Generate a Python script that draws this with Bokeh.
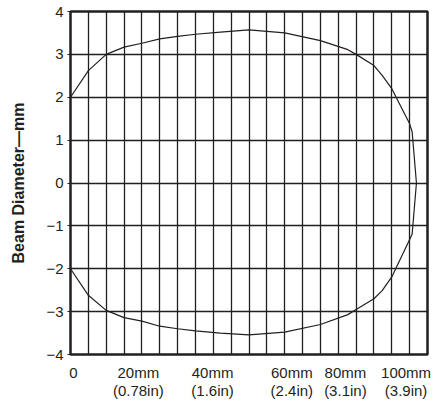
from bokeh.plotting import figure
from bokeh.models import Range1d, FixedTicker
from bokeh.embed import file_html
from bokeh.resources import INLINE

# distance along beam (mm) and beam boundary (mm)
distance_mm = [0, 5, 10, 15, 20, 25, 30, 35, 42, 50, 60, 70, 77.7, 80, 85, 87.3, 90, 95, 95.7, 96.9]
upper_mm = [2.0, 2.62, 3.0, 3.17, 3.26, 3.36, 3.42, 3.47, 3.52, 3.57, 3.50, 3.32, 3.11, 3.0, 2.74, 2.51, 2.2, 1.38, 1.19, 0.0]
lower_mm = [-2.0, -2.62, -2.97, -3.14, -3.22, -3.34, -3.40, -3.45, -3.50, -3.54, -3.48, -3.30, -3.07, -2.95, -2.70, -2.51, -2.19, -1.32, -1.19, 0.0]

# x tick labels (placed where the labels sit in the original)
x_tick_pos = [0.8, 19, 39.8, 62, 77, 94]
x_tick_labels = ["0", "20mm\n(0.78in)", "40mm\n(1.6in)", "60mm\n(2.4in)", "80mm\n(3.1in)", "100mm\n(3.9in)"]
y_ticks = [-4, -3, -2, -1, 0, 1, 2, 3, 4]
y_tick_labels = ["\u22124", "\u22123", "\u22122", "\u22121", "0", "1", "2", "3", "4"]

INK = "#231f20"

p = figure(width=432, height=402, output_backend="svg", toolbar_location=None,
           x_range=Range1d(0, 100), y_range=Range1d(-4, 4),
           min_border_left=70, min_border_right=5, min_border_top=11, min_border_bottom=48)
p.background_fill_color = "white"
p.border_fill_color = "white"
p.outline_line_color = INK
p.outline_line_width = 2.5

p.line(distance_mm, upper_mm, line_color=INK, line_width=1.2)
p.line(distance_mm, lower_mm, line_color=INK, line_width=1.2)

# grid
p.xgrid.ticker = FixedTicker(ticks=list(range(0, 101, 5)))
p.ygrid.ticker = FixedTicker(ticks=y_ticks)
for g in (p.xgrid, p.ygrid):
    g.grid_line_color = INK
    g.grid_line_width = 1.3
    g.grid_line_alpha = 1.0

# x axis
xa = p.xaxis[0]
xa.ticker = FixedTicker(ticks=x_tick_pos)
xa.major_label_overrides = {t: l for t, l in zip(x_tick_pos, x_tick_labels)}
xa.axis_line_color = None
xa.major_tick_line_color = None
xa.minor_tick_line_color = None
xa.major_label_standoff = 3
xa.major_label_text_font = "Liberation Sans"
xa.major_label_text_font_size = "15px"
xa.major_label_text_color = INK
xa.major_label_text_line_height = 1.1

# y axis
ya = p.yaxis[0]
ya.ticker = FixedTicker(ticks=y_ticks)
ya.major_label_overrides = {t: l for t, l in zip(y_ticks, y_tick_labels)}
ya.axis_line_color = None
ya.major_tick_line_color = INK
ya.major_tick_line_width = 1
ya.major_tick_out = 3
ya.major_tick_in = 0
ya.minor_tick_line_color = None
ya.major_label_standoff = 4
ya.major_label_text_font = "Liberation Sans"
ya.major_label_text_font_size = "15px"
ya.major_label_text_color = INK
ya.axis_label = "Beam Diameter\u2014mm"
ya.axis_label_text_font = "Liberation Sans"
ya.axis_label_text_font_style = "bold"
ya.axis_label_text_font_size = "16px"
ya.axis_label_text_color = INK
ya.axis_label_standoff = 16

open("out.html", "w").write(file_html(p, INLINE))
